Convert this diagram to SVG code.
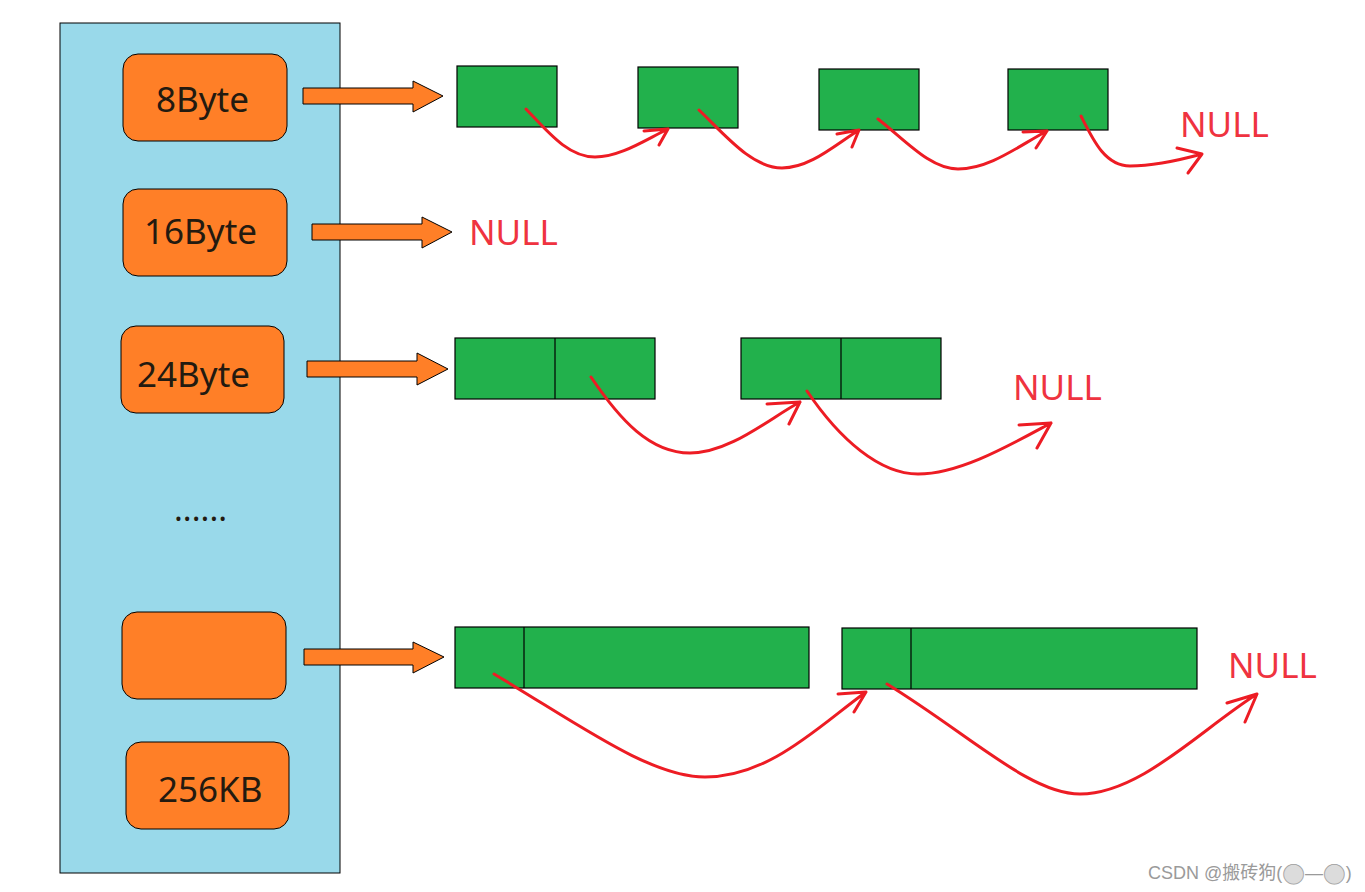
<svg xmlns="http://www.w3.org/2000/svg" width="1365" height="892" viewBox="0 0 1365 892">
<style>
.panel{fill:#99d9ea;stroke:#000;stroke-width:1}
.key{fill:#ff7f27;stroke:#000;stroke-width:1}
.lbl{font-family:"Noto Sans","Open Sans",sans-serif;font-size:35px;fill:#231a10}
.blk{fill:#ff7f27;stroke:#000;stroke-width:1}
.cell{fill:#22b14c;stroke:#000;stroke-width:1.2}
.div{stroke:#000;stroke-width:1.2}
.link{fill:none;stroke:#ed1c24;stroke-width:3;stroke-linecap:round;stroke-linejoin:round}
.null{font-family:"Noto Sans","Open Sans",sans-serif;font-size:35px;fill:#ef3340}
.wm{font-family:"Liberation Sans","Noto Sans CJK SC",sans-serif;font-size:18px;fill:#9a9a9a}
.ball{font-family:"DejaVu Sans",sans-serif;font-size:26px;fill:#dcdcdc;stroke:#a0a0a0;stroke-width:0.8}
</style>
<defs>
<clipPath id="c8"><rect x="120" y="50" width="129" height="90"/></clipPath>
</defs>
<rect id="panel" class="panel" x="60" y="23" width="280" height="850"/>
<g id="k8"><rect class="key" x="123" y="54" width="164" height="87" rx="15"/><text class="lbl" x="156" y="112" clip-path="url(#c8)">8Byte</text></g>
<g id="k16"><rect class="key" x="123" y="189" width="164" height="87" rx="15"/><text class="lbl" x="144" y="244">16Byte</text></g>
<g id="k24"><rect class="key" x="121" y="326" width="163" height="87" rx="15"/><text class="lbl" x="137" y="387">24Byte</text></g>
<g id="dots"><text class="lbl" x="174" y="521" style="font-size:33px">......</text></g>
<g id="kblank"><rect class="key" x="122" y="612" width="164" height="87" rx="15"/></g>
<g id="k256"><rect class="key" x="126" y="742" width="163" height="87" rx="15"/><text class="lbl" x="158" y="802">256KB</text></g>
<g id="pointers">
<polygon class="blk" points="303,88 413,88 413,81 443,96 413,112 413,104 303,104"/>
<polygon class="blk" points="312,224 422,224 422,217 452,232 422,248 422,240 312,240"/>
<polygon class="blk" points="307,361 417,361 417,353 448,369 417,385 417,377 307,377"/>
<polygon class="blk" points="304,649 413,649 413,642 444,657 413,673 413,665 304,665"/>
</g>
<g id="row8">
<rect class="cell" x="457" y="66" width="100" height="61"/>
<rect class="cell" x="638" y="67" width="100" height="61"/>
<rect class="cell" x="819" y="69" width="100" height="61"/>
<rect class="cell" x="1008" y="69" width="100" height="61"/>
<text class="null" x="1180" y="137">NULL</text>
</g>
<g id="row16"><text class="null" x="469" y="245">NULL</text></g>
<g id="row24">
<rect class="cell" x="455" y="338" width="200" height="61"/><line class="div" x1="555" y1="338" x2="555" y2="399"/>
<rect class="cell" x="741" y="338" width="200" height="61"/><line class="div" x1="841" y1="338" x2="841" y2="399"/>
<text class="null" x="1013" y="400">NULL</text>
</g>
<g id="row256">
<rect class="cell" x="455" y="627" width="354" height="61"/><line class="div" x1="524" y1="627" x2="524" y2="688"/>
<rect class="cell" x="842" y="628" width="355" height="61"/><line class="div" x1="911" y1="628" x2="911" y2="689"/>
<text class="null" x="1228" y="678">NULL</text>
</g>
<g id="links">
<path class="link" d="M526,109 C548,132 568,157 595,157 C620,157 645,140 668,129 M644,131 L668,129 L659,145"/>
<path class="link" d="M699,110 C725,135 752,168 782,168 C810,168 835,145 859,130 M837,134 L859,130 L852,147"/>
<path class="link" d="M878,119 C905,140 930,169 958,169 C990,169 1020,145 1047,131 M1023,132 L1047,131 L1036,148"/>
<path class="link" d="M1081,116 C1093,140 1105,166 1130,166 C1155,166 1180,160 1202,154 M1177,148 L1202,154 L1188,173"/>
<path class="link" d="M591,377 C620,420 650,453 690,453 C730,453 770,418 800,402 M767,404 L800,402 L789,424"/>
<path class="link" d="M807,391 C840,440 880,474 918,474 C960,474 1010,445 1051,423 M1019,425 L1051,423 L1037,448"/>
<path class="link" d="M494,674 C580,725 650,777 705,777 C770,777 820,725 866,692 M838,694 L866,692 L854,712"/>
<path class="link" d="M887,684 C970,735 1030,794 1080,794 C1140,794 1200,730 1257,694 M1227,703 L1257,694 L1245,722"/>
</g>
<g id="watermark"><text class="wm" x="1148" y="879">CSDN @搬砖狗(<tspan class="ball" dy="2">●</tspan><tspan dy="-2">—</tspan><tspan class="ball" dy="2">●</tspan><tspan dy="-2">)</tspan></text></g>
</svg>
